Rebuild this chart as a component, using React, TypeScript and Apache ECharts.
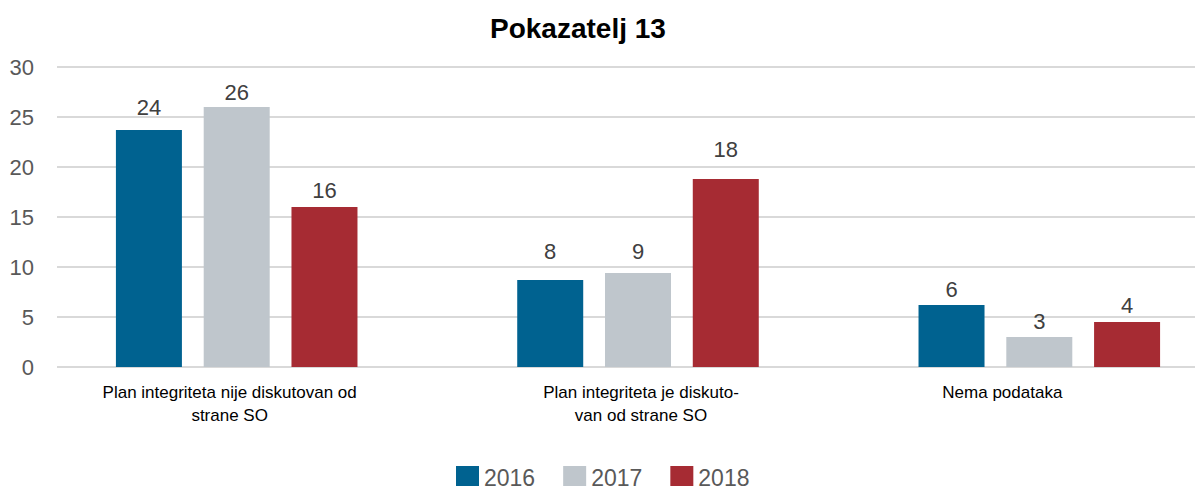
import React, { useEffect, useRef } from "react";
import * as echarts from "echarts";

const categories = [
  "Plan integriteta nije diskutovan od\nstrane SO",
  "Plan integriteta je diskuto-\nvan od strane SO",
  "Nema podataka",
];
const years = ["2016", "2017", "2018"];
const values2016 = [23.7, 8.7, 6.2];
const values2017 = [26.0, 9.4, 3.0];
const values2018 = [16.0, 18.8, 4.5];
const labels2016 = ["24", "8", "6"];
const labels2017 = ["26", "9", "3"];
const labels2018 = ["16", "18", "4"];
const yTicks = [0, 5, 10, 15, 20, 25, 30];

// layout tweaks (not data)
const labelDistances = [
  [12, 18, 5],
  [4, 11, 5],
  [6, 19, 6],
];
// horizontal shift (px) of each category label: negative = left
const catLabelShift = [-17, 15, -3];
// the plot extends past the right edge in the original: group spacing 401px
const GRID_LEFT = 57;
const GRID_WIDTH = 1138;
const GROUP_STEP = 401.3;
const FIRST_CENTER = 236.7;
const xMin = -(FIRST_CENTER - GRID_LEFT) / GROUP_STEP;
const xMax = xMin + GRID_WIDTH / GROUP_STEP;

const colors = ["#006290", "#BFC6CC", "#A62B33"];
const FONT = "'Liberation Sans', Arial, sans-serif";

export default function App() {
  const ref = useRef<HTMLDivElement>(null);
  useEffect(() => {
    if (!ref.current) return;
    const chart = echarts.init(ref.current, undefined, { renderer: "svg" });
    const allValues = [values2016, values2017, values2018];
    const allLabels = [labels2016, labels2017, labels2018];
    const series = years.map((y, si) => ({
      name: y,
      type: "bar",
      xAxisIndex: 0,
      yAxisIndex: 0,
      barWidth: 66,
      barGap: "33%",
      itemStyle: { color: colors[si] },
      data: allValues[si].map((v, i) => ({
        value: [i, v],
        label: {
          show: true,
          position: "top",
          distance: labelDistances[si][i],
          formatter: allLabels[si][i],
          fontSize: 22,
          color: "#404040",
          fontFamily: FONT,
        },
      })),
    }));
    chart.setOption({
      animation: false,
      backgroundColor: "#ffffff",
      textStyle: { fontFamily: FONT },
      title: {
        text: "Pokazatelj 13",
        left: 490,
        top: 14,
        padding: 0,
        textStyle: { fontSize: 28, fontWeight: "bold", color: "#000000", fontFamily: FONT },
      },
      legend: {
        data: years,
        left: 456,
        top: 466,
        padding: 0,
        itemWidth: 23,
        itemHeight: 23,
        itemGap: 28,
        icon: "rect",
        textStyle: { fontSize: 23, color: "#595959", fontFamily: FONT },
      },
      grid: [
        { left: GRID_LEFT, width: GRID_WIDTH, top: 67, bottom: 119 },
        { left: GRID_LEFT, width: GRID_WIDTH, top: 67, bottom: 119 },
      ],
      xAxis: [
        {
          type: "value",
          gridIndex: 0,
          min: xMin,
          max: xMax,
          show: false,
        },
        {
          type: "category",
          gridIndex: 1,
          data: categories.map((c, i) => {
            const s = catLabelShift[i];
            return {
              value: c,
              textStyle: {
                padding: s < 0 ? [0, -2 * s, 0, 0] : [0, 0, 0, 2 * s],
              },
            };
          }),
          axisLine: { show: false },
          axisTick: { show: false },
          axisLabel: {
            fontSize: 17,
            lineHeight: 23,
            color: "#000000",
            margin: 14,
            interval: 0,
            fontFamily: FONT,
          },
        },
      ],
      yAxis: [
        { type: "value", gridIndex: 0, min: 0, max: 30, interval: 5, show: false },
        {
          type: "value",
          gridIndex: 1,
          min: yTicks[0],
          max: yTicks[yTicks.length - 1],
          interval: 5,
          axisLine: { show: false },
          axisTick: { show: false },
          axisLabel: { fontSize: 22, color: "#595959", margin: 23, fontFamily: FONT },
          splitLine: { lineStyle: { color: "#D9D9D9", width: 2 } },
        },
      ],
      series,
    });
    return () => chart.dispose();
  }, []);
  return (
    <div
      ref={ref}
      style={{ position: "fixed", left: 0, top: 0, width: 1195, height: 486 }}
    />
  );
}
